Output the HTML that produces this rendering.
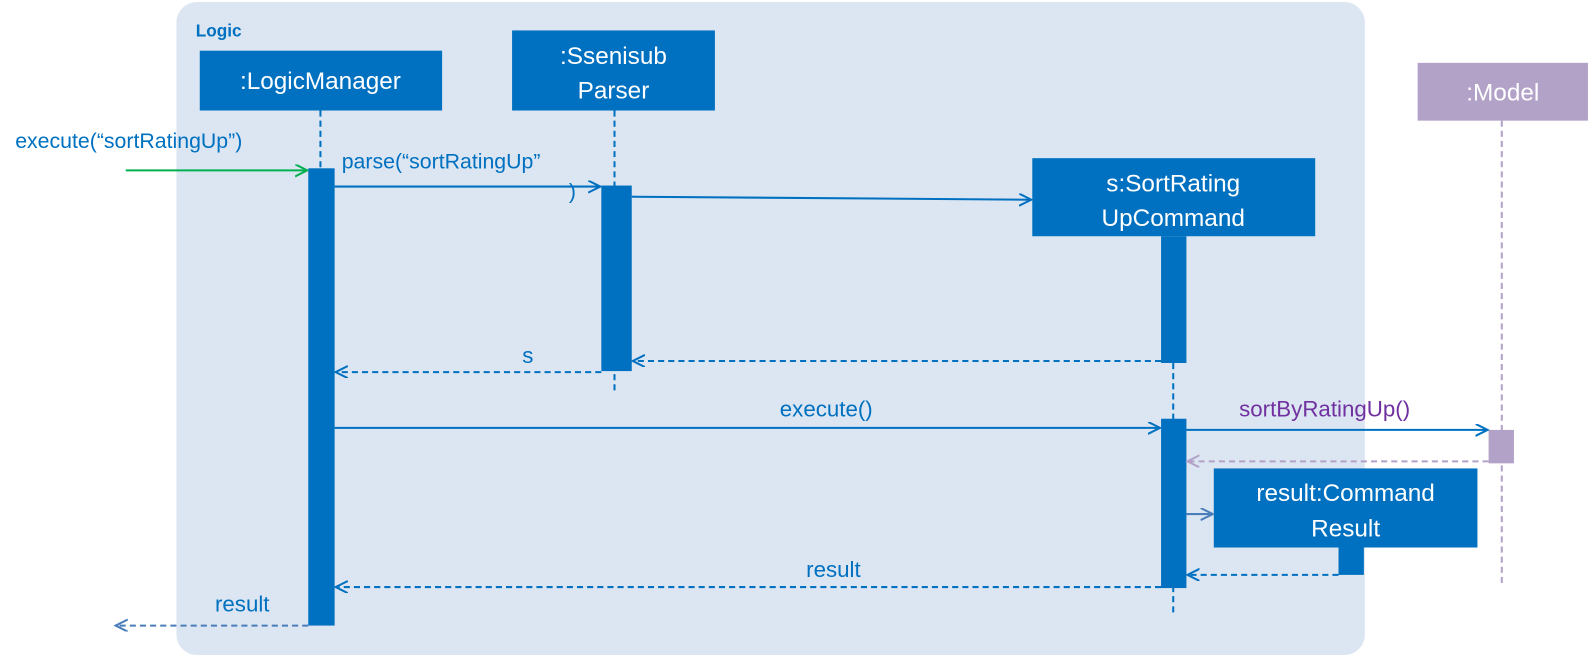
<!DOCTYPE html>
<html><head><meta charset="utf-8"><style>
html,body{margin:0;padding:0;background:#fff;width:1590px;height:656px;overflow:hidden}
svg{display:block;font-family:"Liberation Sans",sans-serif}
</style></head><body>
<svg width="1590" height="656" viewBox="0 0 1568 647" preserveAspectRatio="none">
<defs>
<marker id="ob" markerWidth="14" markerHeight="14" refX="12" refY="6" orient="auto" markerUnits="userSpaceOnUse"><path d="M0,0 L12,6 L0,12" fill="none" stroke="#0070c0" stroke-width="2"/></marker>
<marker id="og" markerWidth="14" markerHeight="14" refX="12" refY="6" orient="auto" markerUnits="userSpaceOnUse"><path d="M0,0 L12,6 L0,12" fill="none" stroke="#00b050" stroke-width="2"/></marker>
<marker id="os" markerWidth="14" markerHeight="14" refX="12" refY="6" orient="auto" markerUnits="userSpaceOnUse"><path d="M0,0 L12,6 L0,12" fill="none" stroke="#4a7ebb" stroke-width="2"/></marker>
<marker id="ol" markerWidth="14" markerHeight="14" refX="12" refY="6" orient="auto" markerUnits="userSpaceOnUse"><path d="M0,0 L12,6 L0,12" fill="none" stroke="#b3a2c7" stroke-width="2"/></marker>
</defs>
<rect x="174" y="2" width="1172" height="644" rx="20" fill="#dce6f2"/>
<text x="193" y="36" font-size="17" font-weight="bold" fill="#0070c0">Logic</text>

<g stroke-dasharray="6,4" stroke-width="2" fill="none">
<line x1="316" y1="109" x2="316" y2="166" stroke="#0070c0"/>
<line x1="606" y1="109" x2="606" y2="386" stroke="#0070c0"/>
<line x1="1157" y1="358" x2="1157" y2="607" stroke="#0070c0"/>
<line x1="1481" y1="119" x2="1481" y2="575" stroke="#b3a2c7"/>
</g>

<g><rect x="197" y="50" width="239" height="59" fill="#0070c0"/><text x="316" y="88" font-size="24" fill="#fff" text-anchor="middle">:LogicManager</text></g>
<g><rect x="505" y="30" width="200" height="79" fill="#0070c0"/><text x="605" y="63" font-size="24" fill="#fff" text-anchor="middle">:Ssenisub</text><text x="605" y="97" font-size="24" fill="#fff" text-anchor="middle">Parser</text></g>
<g><rect x="1018" y="156" width="279" height="77" fill="#0070c0"/><text x="1157" y="189" font-size="24" fill="#fff" text-anchor="middle">s:SortRating</text><text x="1157" y="223" font-size="24" fill="#fff" text-anchor="middle">UpCommand</text></g>
<g><rect x="1398" y="62" width="168" height="57" fill="#b3a2c7"/><text x="1482" y="99" font-size="24" fill="#fff" text-anchor="middle">:Model</text></g>
<g><rect x="1197" y="462" width="260" height="78" fill="#0070c0"/><text x="1327" y="494" font-size="24" fill="#fff" text-anchor="middle">result:Command</text><text x="1327" y="529" font-size="24" fill="#fff" text-anchor="middle">Result</text></g>

<rect x="304" y="166" width="26" height="451" fill="#0070c0"/>
<rect x="593" y="183" width="30" height="183" fill="#0070c0"/>
<rect x="1145" y="233" width="25" height="125" fill="#0070c0"/>
<rect x="1145" y="413" width="25" height="167" fill="#0070c0"/>
<rect x="1468" y="424" width="25" height="33" fill="#b3a2c7"/>
<rect x="1320" y="540" width="25" height="27" fill="#0070c0"/>

<g stroke-width="2" fill="none">
<line x1="124" y1="168" x2="303" y2="168" stroke="#00b050" marker-end="url(#og)"/>
<line x1="330" y1="184" x2="592" y2="184" stroke="#0070c0" marker-end="url(#ob)"/>
<line x1="623" y1="194" x2="1017" y2="197" stroke="#0070c0" marker-end="url(#ob)"/>
<line x1="1145" y1="356" x2="624" y2="356" stroke="#0070c0" stroke-dasharray="6,4" marker-end="url(#ob)"/>
<line x1="593" y1="367" x2="331" y2="367" stroke="#0070c0" stroke-dasharray="6,4" marker-end="url(#ob)"/>
<line x1="330" y1="422" x2="1144" y2="422" stroke="#0070c0" marker-end="url(#ob)"/>
<line x1="1170" y1="424" x2="1467" y2="424" stroke="#0070c0" marker-end="url(#ob)"/>
<line x1="1468" y1="455" x2="1171" y2="455" stroke="#b3a2c7" stroke-dasharray="6,4" marker-end="url(#ol)"/>
<line x1="1170" y1="507" x2="1196" y2="507" stroke="#4a7ebb" marker-end="url(#os)"/>
<line x1="1320" y1="567" x2="1171" y2="567" stroke="#0070c0" stroke-dasharray="6,4" marker-end="url(#ob)"/>
<line x1="1145" y1="579" x2="331" y2="579" stroke="#0070c0" stroke-dasharray="6,4" marker-end="url(#ob)"/>
<line x1="304" y1="617" x2="114" y2="617" stroke="#4a7ebb" stroke-dasharray="6,4" marker-end="url(#os)"/>
</g>

<g font-size="21" fill="#0070c0">
<text x="15" y="146">execute(“sortRatingUp”)</text>
<text x="337" y="166">parse(“sortRatingUp”</text>
<text x="561" y="196">)</text>
<text x="515" y="358" font-size="22">s</text>
<text x="769" y="411" font-size="22">execute()</text>
<text x="1222" y="411" font-size="22" fill="#7030a0">sortByRatingUp()</text>
<text x="795" y="569" font-size="22">result</text>
<text x="212" y="603" font-size="22">result</text>
</g>
</svg>
</body></html>
